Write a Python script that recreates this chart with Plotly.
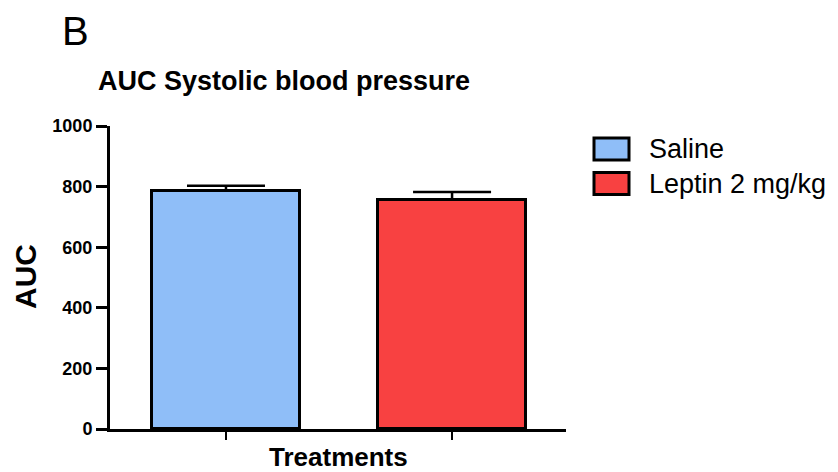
import plotly.graph_objects as go

categories = ["Saline", "Leptin 2 mg/kg"]
means = [787, 757]
sem = [16, 25]
colors = ["#8FBEF8", "#F84141"]
y_ticks = [0, 200, 400, 600, 800, 1000]

W, H = 838, 472
L, R, T, B = 110, 272, 126, 43
pw, ph = W - L - R, H - T - B

def px(x):
    return (x - L) / pw

def py(y):
    return (H - B - y) / ph

fig = go.Figure()
for i, (c, m, e, col) in enumerate(zip(categories, means, sem, colors)):
    fig.add_trace(go.Bar(
        x=[i], y=[m], name=c, width=0.655,
        marker=dict(color=col, line=dict(color="black", width=3)),
        error_y=dict(type="data", symmetric=False, array=[e], arrayminus=[0],
                     color="black", thickness=2.5, width=39),
        showlegend=False,
    ))

font = "Liberation Sans, Arial, sans-serif"
fig.update_layout(
    width=W, height=H,
    margin=dict(l=L, r=R, t=T, b=B, pad=0),
    paper_bgcolor="white", plot_bgcolor="white",
    title=dict(text="<b>AUC Systolic blood pressure</b>", x=98 / W, xanchor="left",
               y=1 - 81 / H, yanchor="middle", xref="container", yref="container",
               font=dict(family=font, size=27, color="black")),
    xaxis=dict(range=[-0.513, 1.504], tickvals=[0, 1], ticktext=["", ""],
               showline=True, linecolor="black", linewidth=3, ticks="outside",
               ticklen=8, tickwidth=2, tickcolor="black", showgrid=False, zeroline=False,
               fixedrange=True),
    yaxis=dict(range=[0, 1000], tickvals=y_ticks, showline=True, linecolor="black",
               linewidth=3, ticks="outside", ticklen=11, tickwidth=2.5, tickcolor="black",
               showgrid=False, zeroline=False, fixedrange=True,
               tickfont=dict(family=font, size=18, color="black", weight="bold")),
    bargap=0,
)

ann = [
    dict(text="B", x=px(60), y=py(31), xanchor="left", yanchor="middle",
         font=dict(family=font, size=40, color="black")),
    dict(text="<b>AUC</b>", x=px(25), y=py(277), xanchor="center", yanchor="middle",
         textangle=-90, font=dict(family=font, size=30, color="black")),
    dict(text="<b>Treatments</b>", x=px(338), y=py(457), xanchor="center", yanchor="middle",
         font=dict(family=font, size=26, color="black")),
]
legend_y = [149, 183.5]
for c, col, yc in zip(categories, colors, legend_y):
    ann.append(dict(text=c, x=px(647), y=py(yc), xanchor="left", yanchor="middle",
                    font=dict(family=font, size=27, color="black")))
    fig.add_shape(type="rect", xref="paper", yref="paper",
                  x0=px(594), x1=px(629), y0=py(yc - 11), y1=py(yc + 11),
                  fillcolor=col, line=dict(color="black", width=3))
for a in ann:
    a.update(xref="paper", yref="paper", showarrow=False)
fig.update_layout(annotations=ann)

fig.write_html("out.html", config={"displayModeBar": False})
with open("out.html", "r", encoding="utf-8") as f:
    html = f.read()
html = html.replace("<body>", '<body style="margin:0;padding:0;overflow:hidden">', 1)
with open("out.html", "w", encoding="utf-8") as f:
    f.write(html)
